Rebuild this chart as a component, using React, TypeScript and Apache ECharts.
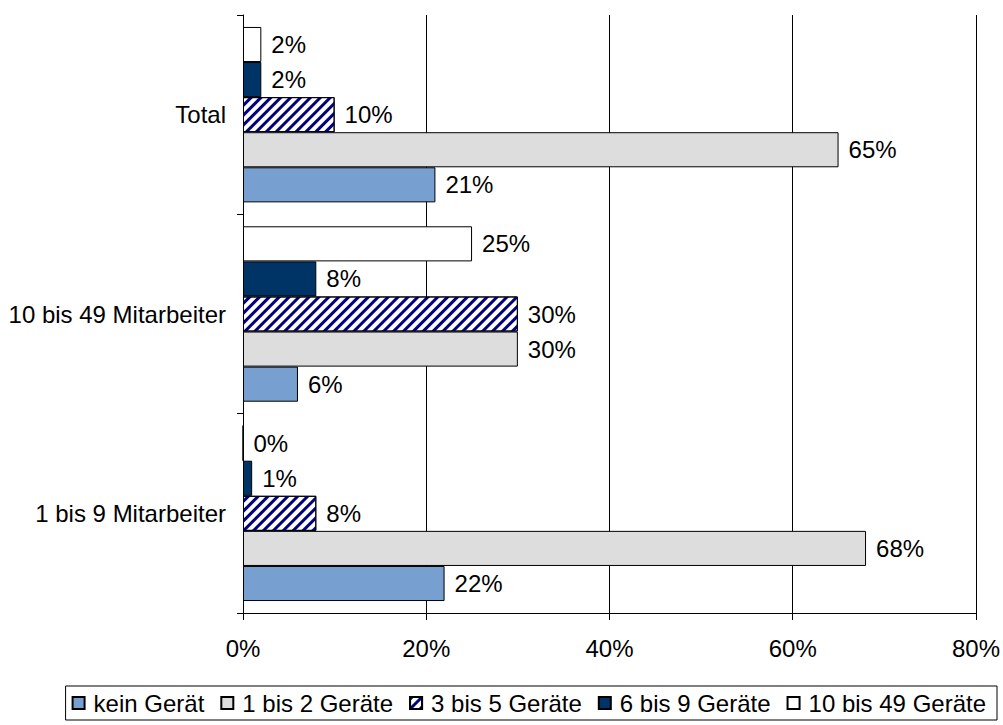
import React, { useEffect, useRef } from "react";
import * as echarts from "echarts";

const categories = ["1 bis 9 Mitarbeiter", "10 bis 49 Mitarbeiter", "Total"];
const seriesNames = ["kein Gerät", "1 bis 2 Geräte", "3 bis 5 Geräte", "6 bis 9 Geräte", "10 bis 49 Geräte"];
const keinGeraet = [22, 6, 21];
const einsBisZwei = [68, 30, 65];
const dreiBisFuenf = [8, 30, 10];
const sechsBisNeun = [1, 8, 2];
const zehnBis49 = [0, 25, 2];
const seriesValues = [keinGeraet, einsBisZwei, dreiBisFuenf, sechsBisNeun, zehnBis49];
const seriesColors = ["#779fcf", "#dddddd", "#ffffff", "#003366", "#ffffff"];

const FONT = "'Liberation Sans', Arial, sans-serif";
const FS = 24;

export default function App() {
  const ref = useRef<HTMLDivElement>(null);
  useEffect(() => {
    if (!ref.current) return;
    const chart = echarts.init(ref.current, null, { renderer: "svg" });
    const series = seriesNames.map((name, i) => {
      const itemStyle: any = { color: seriesColors[i], borderColor: "#000", borderWidth: 1 };
      if (i === 2) {
        itemStyle.decal = {
          symbol: "rect",
          symbolSize: 1,
          color: "#000080",
          dashArrayX: [1, 0],
          dashArrayY: [3, 3.5],
          rotation: -Math.PI / 4,
        };
      }
      return {
        name,
        type: "bar",
        data: seriesValues[i],
        barGap: "0%",
        barCategoryGap: "12%",
        itemStyle,
        label: {
          show: true,
          position: "right",
          distance: 10,
          formatter: "{c}%",
          color: "#000",
          fontSize: FS,
          fontFamily: FONT,
        },
      };
    });
    // ECharts stacks the first series of a y-category group at the top; reverse so "kein Gerät" is at the bottom
    series.reverse();
    chart.setOption({
      animation: false,
      aria: { enabled: false, decal: { show: false } },
      grid: { left: 243, right: 23, top: 15, bottom: 112, containLabel: false },
      xAxis: {
        type: "value",
        min: 0,
        max: 80,
        interval: 20,
        axisLine: { show: true, lineStyle: { color: "#000", width: 1 } },
        axisTick: { show: true, length: 7, lineStyle: { color: "#000" } },
        splitLine: { show: true, lineStyle: { color: "#000", width: 1 } },
        axisLabel: { formatter: "{value}%", color: "#000", fontSize: FS, fontFamily: FONT, margin: 23 },
      },
      yAxis: {
        type: "category",
        data: categories,
        axisLine: { show: true, lineStyle: { color: "#000", width: 1 } },
        axisTick: { show: true, length: 6, alignWithLabel: false, lineStyle: { color: "#000" } },
        axisLabel: { color: "#000", fontSize: FS, fontFamily: FONT, margin: 17 },
        splitLine: { show: false },
      },
      legend: {
        data: seriesNames,
        bottom: 5,
        right: 6,
        orient: "horizontal",
        borderColor: "#000",
        borderWidth: 1,
        padding: [5, 11, 5, 6],
        itemWidth: 12,
        itemHeight: 12,
        itemGap: 16,
        icon: "rect",
        textStyle: { color: "#000", fontSize: FS, fontFamily: FONT, padding: [0, 0, 0, 4] },
      },
      series,
    });
    return () => chart.dispose();
  }, []);
  return (
    <div
      ref={ref}
      style={{ position: "absolute", left: 0, top: 0, width: 1003, height: 725, background: "#fff" }}
    />
  );
}
